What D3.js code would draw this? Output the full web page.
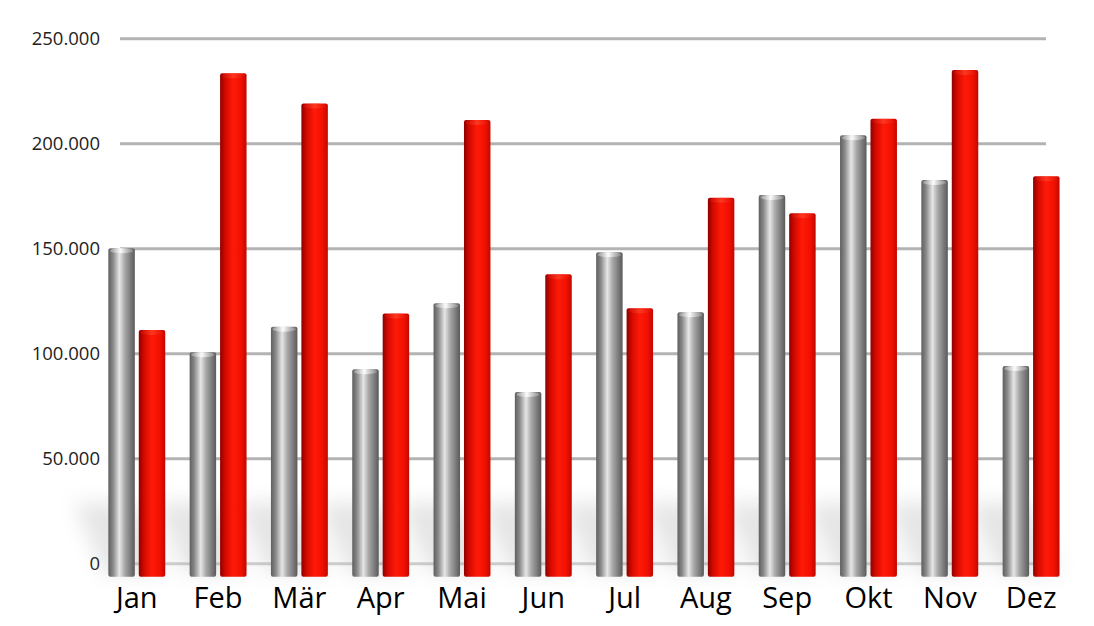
<!DOCTYPE html>
<html>
<head>
<meta charset="utf-8">
<script src="https://cdn.jsdelivr.net/npm/d3@7"></script>
<style>
  body { margin: 0; background: #fff; }
  svg { display: block; }
</style>
</head>
<body>
<svg id="chart"></svg>
<script>
let months = ['Jan', 'Feb', 'Mär', 'Apr', 'Mai', 'Jun', 'Jul', 'Aug', 'Sep', 'Okt', 'Nov', 'Dez']
let graySeries = [150000, 100500, 112700, 92400, 123800, 81600, 148100, 119500, 175400, 203800, 182500, 94000]
let redSeries = [111100, 233300, 219000, 119000, 211100, 137600, 121400, 174100, 166700, 211700, 234900, 184300]
let yTicks = [0, 50000, 100000, 150000, 200000, 250000]

let width = 1094
let height = 626

let svg = d3.select('#chart')
    .attr('width', width)
    .attr('height', height)

let defs = svg.append('defs')

// cylinder shading
let grayGrad = defs.append('linearGradient').attr('id', 'grayCyl')
grayGrad.append('stop').attr('offset', '0%').attr('stop-color', '#5e5e5e')
grayGrad.append('stop').attr('offset', '18%').attr('stop-color', '#8a8a8a')
grayGrad.append('stop').attr('offset', '42%').attr('stop-color', '#e6e6e6')
grayGrad.append('stop').attr('offset', '62%').attr('stop-color', '#a8a8a8')
grayGrad.append('stop').attr('offset', '100%').attr('stop-color', '#5a5a5a')

let redGrad = defs.append('linearGradient').attr('id', 'redCyl')
redGrad.append('stop').attr('offset', '0%').attr('stop-color', '#8e0000')
redGrad.append('stop').attr('offset', '20%').attr('stop-color', '#d40a00')
redGrad.append('stop').attr('offset', '50%').attr('stop-color', '#ff1a08')
redGrad.append('stop').attr('offset', '80%').attr('stop-color', '#f01000')
redGrad.append('stop').attr('offset', '100%').attr('stop-color', '#c00800')

let grayCap = defs.append('linearGradient').attr('id', 'grayCap')
grayCap.append('stop').attr('offset', '0%').attr('stop-color', '#9a9a9a')
grayCap.append('stop').attr('offset', '45%').attr('stop-color', '#ffffff')
grayCap.append('stop').attr('offset', '100%').attr('stop-color', '#8a8a8a')

let redCap = defs.append('linearGradient').attr('id', 'redCap')
redCap.append('stop').attr('offset', '0%').attr('stop-color', '#d00800')
redCap.append('stop').attr('offset', '50%').attr('stop-color', '#ff4a30')
redCap.append('stop').attr('offset', '100%').attr('stop-color', '#e00c00')

defs.append('filter').attr('id', 'soft')
    .attr('x', '-100%').attr('y', '-100%').attr('width', '300%').attr('height', '300%')
    .append('feGaussianBlur').attr('stdDeviation', 10)

let y = d3.scaleLinear().domain([0, 250000]).range([563.3, 38.3])

let x = d3.scaleBand()
    .domain(months)
    .range([96.15, 1071.75])
    .paddingInner(0.3)
    .paddingOuter(0.15)

let xs = d3.scaleBand()
    .domain(['gray', 'red'])
    .range([0, x.bandwidth()])
    .paddingInner(0.13)

let baseDrop = 13.5

// gridlines
let yAxis = d3.axisLeft(y)
    .tickValues(yTicks)
    .tickSize(-926)
    .tickPadding(20)
    .tickFormat(d => d3.format(',')(d).replace(/,/g, '.'))

let axisG = svg.append('g')
    .attr('transform', 'translate(1046,0)')
    .call(yAxis)

axisG.select('.domain').remove()
axisG.selectAll('.tick line')
    .attr('x1', 0)
    .attr('x2', -926)
    .attr('stroke', '#b3b3b3')
    .attr('stroke-width', 3)
axisG.selectAll('.tick').filter(d => d === 0).select('line').attr('stroke', '#d0d0d0')
axisG.selectAll('.tick text')
    .attr('x', -946)
    .attr('dy', '0.32em')
    .attr('fill', '#222')
    .style('font-family', '"Open Sans", sans-serif')
    .style('font-size', '18.5px')

// soft shadows near the base
let shadowG = svg.append('g').attr('filter', 'url(#soft)').attr('opacity', 0.22)
months.forEach((m, i) => {
    shadowG.append('path')
        .attr('fill', '#8a8a8a')
        .attr('d', () => {
            let x0 = x(m) - 4
            let x1 = x(m) + x.bandwidth()
            let yb = y(0) + baseDrop - 4
            let yt = y(0) - 60
            return 'M' + x0 + ',' + yb + 'L' + x1 + ',' + yb + 'L' + (x1 - 30) + ',' + yt + 'L' + (x0 - 30) + ',' + yt + 'Z'
        })
})

let series = [
    { key: 'gray', values: graySeries, body: 'url(#grayCyl)', cap: 'url(#grayCap)' },
    { key: 'red', values: redSeries, body: 'url(#redCyl)', cap: 'url(#redCap)' }
]

let groups = svg.selectAll('g.month')
    .data(months)
    .enter()
    .append('g')
    .attr('class', 'month')
    .attr('transform', d => 'translate(' + x(d) + ',0)')

series.forEach(s => {
    let bw = xs.bandwidth()
    groups.append('rect')
        .attr('x', xs(s.key))
        .attr('y', (d, i) => y(s.values[i]))
        .attr('width', bw)
        .attr('height', (d, i) => y(0) + baseDrop - y(s.values[i]))
        .attr('rx', 2)
        .attr('fill', s.body)

    groups.append('ellipse')
        .attr('cx', xs(s.key) + bw / 2)
        .attr('cy', (d, i) => y(s.values[i]) + 2.5)
        .attr('rx', bw / 2 - 1.5)
        .attr('ry', 2.5)
        .attr('fill', s.cap)
        .attr('opacity', s.key === 'gray' ? 0.9 : 0.6)
})

// month labels
svg.selectAll('text.month-label')
    .data(months)
    .enter()
    .append('text')
    .attr('class', 'month-label')
    .attr('x', d => x(d) + x.bandwidth() / 2)
    .attr('y', 608)
    .attr('text-anchor', 'middle')
    .attr('fill', '#000')
    .style('font-family', '"Open Sans", sans-serif')
    .style('font-size', '29px')
    .text(d => d)
</script>
</body>
</html>
